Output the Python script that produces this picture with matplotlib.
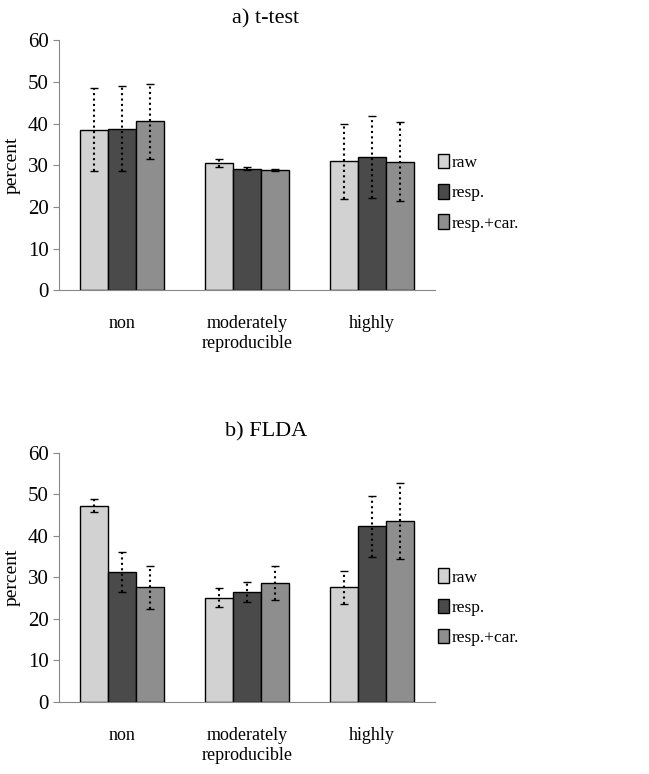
import numpy as np
import matplotlib
matplotlib.use("Agg")
import matplotlib.pyplot as plt

plt.rcParams['font.family'] = ['Liberation Serif', 'DejaVu Serif']

categories = ['non', 'moderately\nreproducible', 'highly']
series = ['raw', 'resp.', 'resp.+car.']
colors = ['#d2d2d2', '#4a4a4a', '#8e8e8e']

# a) t-test: means and half error widths
ttest_vals = [[38.5, 30.5, 31.0],
              [38.8, 29.2, 32.0],
              [40.5, 28.8, 30.8]]
ttest_err = [[10.0, 1.0, 9.0],
             [10.2, 0.3, 9.8],
             [9.0, 0.3, 9.5]]

# b) FLDA
flda_vals = [[47.3, 25.1, 27.6],
             [31.2, 26.5, 42.3],
             [27.6, 28.7, 43.6]]
flda_err = [[1.6, 2.3, 4.0],
            [4.8, 2.5, 7.3],
            [5.1, 4.1, 9.1]]


def draw_panel(ax, vals, errs, title, legend_y):
    x = np.arange(len(categories))
    width = 0.223
    for i, name in enumerate(series):
        pos = x + (i - 1) * width
        ax.bar(pos, vals[i], width, color=colors[i], edgecolor='black',
               linewidth=1.0, label=name, zorder=2)
        eb = ax.errorbar(pos, vals[i], yerr=errs[i], fmt='none', ecolor='black',
                         elinewidth=1.5, capsize=3, capthick=1.0, zorder=3)
        for lc in eb.lines[2]:
            lc.set_linestyle((0, (1.0, 1.6)))
    ax.set_xlim(-0.5, 2.5)
    ax.set_ylim(0, 60)
    ax.set_yticks(range(0, 61, 10))
    ax.set_xticks(x)
    ax.set_xticklabels(categories, fontsize=13)
    ax.tick_params(axis='x', length=0, pad=18)
    ax.tick_params(axis='y', labelsize=15, length=4, color='#888888', direction='out')
    for s in ['top', 'right']:
        ax.spines[s].set_visible(False)
    for s in ['left', 'bottom']:
        ax.spines[s].set_color('#888888')
    ax.set_ylabel('percent', fontsize=14, labelpad=5)
    ax.set_title(title, fontsize=16, pad=12, x=0.55)
    ax.legend(loc='center left', bbox_to_anchor=(0.99, legend_y), frameon=False,
              fontsize=12.5, handlelength=0.65, handleheight=0.9, handletextpad=0.15,
              labelspacing=0.75, borderaxespad=0.0)


fig = plt.figure(figsize=(6.49, 7.74), dpi=100)
ax1 = fig.add_axes([0.091, 0.625, 0.579, 0.323])
ax2 = fig.add_axes([0.091, 0.093, 0.579, 0.322])

draw_panel(ax1, ttest_vals, ttest_err, 'a) t-test', 0.39)
draw_panel(ax2, flda_vals, flda_err, 'b) FLDA', 0.38)

fig.savefig('out.png', dpi=100)
